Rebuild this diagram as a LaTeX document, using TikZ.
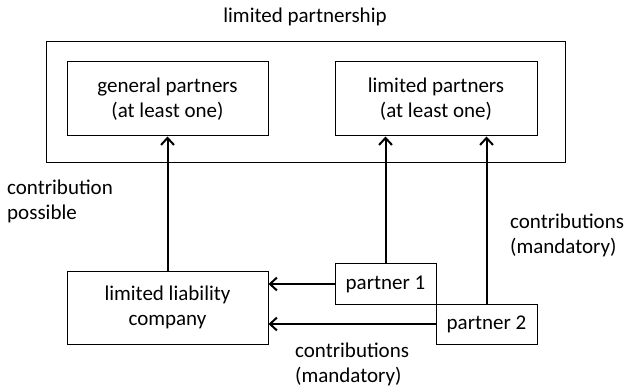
\documentclass[tikz,border=0pt]{standalone}
\usepackage{fontspec}
\setmainfont{Carlito}
\usetikzlibrary{arrows.meta}
\begin{document}
\begin{tikzpicture}[x=1pt,y=-1pt,
  font=\fontsize{21}{25}\selectfont,
  frame/.style={draw, line width=1pt, inner sep=0pt, align=center},
  flow/.style={line width=2pt, -{Straight Barb[length=7pt,width=13pt,line width=2pt]}},
  lbl/.style={inner sep=0pt, align=left, anchor=west}]
  \useasboundingbox (0,0) rectangle (626,387);
  % partnership frame and its two kinds of partners
  \node[frame, minimum width=519pt, minimum height=121pt] (lp) at (305.5,102.5) {};
  \node at (305,17) (title) {limited partnership};
  \node[frame, minimum width=201pt, minimum height=74pt] (gp) at (167.5,99) {general partners\\(at least one)};
  \node[frame, minimum width=202pt, minimum height=74pt] (lim) at (436,99) {limited partners\\(at least one)};
  % contributors
  \node[frame, minimum width=201pt, minimum height=73pt] (llc) at (167.5,307.5) {limited liability\\company};
  \node[frame, minimum width=101pt, minimum height=40pt] (p1) at (385.5,284) {partner 1};
  \node[frame, minimum width=101pt, minimum height=40pt] (p2) at (486.5,324) {partner 2};
  % contributions
  \draw[flow] (llc.north) -- (gp.south);
  \draw[flow] (p1.north) -- (p1.north |- lim.south);
  \draw[flow] (p2.north) -- (p2.north |- lim.south);
  \draw[flow] (p1.west) -- (p1.west -| llc.east);
  \draw[flow] (p2.west) -- (p2.west -| llc.east);
  % labels
  \node[lbl] (l1) at (7,201) {contribution\\possible};
  \node[lbl] (l2) at (510,235) {contributions\\(mandatory)};
  \node[lbl] (l3) at (295,364) {contributions\\(mandatory)};
\end{tikzpicture}
\end{document}
